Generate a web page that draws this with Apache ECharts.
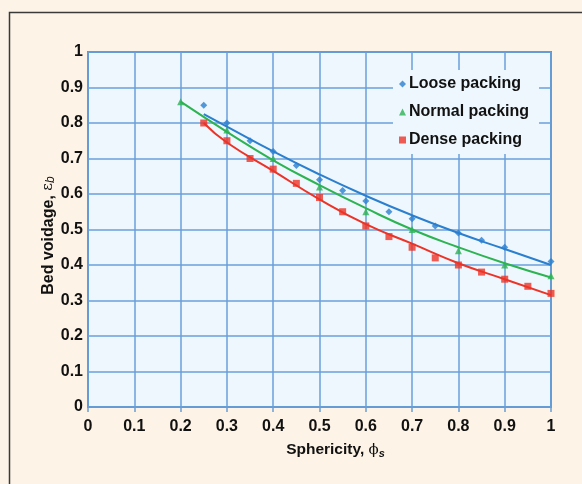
<!DOCTYPE html>
<html><head><meta charset="utf-8">
<script src="https://cdn.jsdelivr.net/npm/echarts@6/dist/echarts.min.js"></script>
<style>html,body{margin:0;padding:0;background:#fdf3e6;}#c{width:582px;height:484px;}</style>
</head><body><div id="c"></div>
<script>
var xTicks = [0,0.1,0.2,0.3,0.4,0.5,0.6,0.7,0.8,0.9,1];
var looseX = [0.25,0.3,0.35,0.4,0.45,0.5,0.55,0.6,0.65,0.7,0.75,0.8,0.85,0.9,1.0];
var looseY = [0.85,0.80,0.75,0.72,0.68,0.64,0.61,0.58,0.55,0.53,0.51,0.49,0.47,0.45,0.41];
var normalX = [0.2,0.3,0.4,0.5,0.6,0.7,0.8,0.9,1.0];
var normalY = [0.86,0.78,0.70,0.62,0.55,0.50,0.44,0.40,0.37];
var denseX = [0.25,0.3,0.35,0.4,0.45,0.5,0.55,0.6,0.65,0.7,0.75,0.8,0.85,0.9,0.95,1.0];
var denseY = [0.80,0.75,0.70,0.67,0.63,0.59,0.55,0.51,0.48,0.45,0.42,0.40,0.38,0.36,0.34,0.32];
var looseFitX = [0.25,0.3,0.4,0.5,0.6,0.7,0.8,0.9,1.0];
var looseFitY = [0.825,0.79,0.72,0.655,0.595,0.54,0.49,0.445,0.40];
var normalFitX = [0.2,0.3,0.4,0.5,0.6,0.7,0.8,0.9,1.0];
var normalFitY = [0.86,0.775,0.695,0.625,0.56,0.50,0.45,0.405,0.365];
var denseFitX = [0.25,0.3,0.4,0.5,0.6,0.7,0.8,0.9,1.0];
var denseFitY = [0.80,0.745,0.665,0.585,0.515,0.46,0.405,0.36,0.315];

function pairs(xs, ys){ return xs.map(function(x,i){ return [x, ys[i]]; }); }
var cBlue = '#2a7fcf', cGreen = '#2cb352', cRed = '#ec3327';
var font = 'Liberation Sans, Arial, Helvetica, sans-serif';

var chart = echarts.init(document.getElementById('c'));
chart.setOption({
  backgroundColor: '#fdf3e6',
  animation: false,
  graphic: [{type:'rect', left:7, top:10, shape:{width:600, height:500}, style:{fill:'none', stroke:'#3a3a3a', lineWidth:1.5}, z:-1}],
  grid: {left: 88, right: 31, top: 52, bottom: 77, show: true, backgroundColor: '#eef7fd', borderColor: '#5d93cf', borderWidth: 2},
  legend: {
    orient: 'vertical', left: 393, top: 70, itemWidth: 7, itemHeight: 7, itemGap: 12,
    backgroundColor: '#eef7fd', padding: [6, 10, 6, 6],
    textStyle: {fontFamily: font, fontWeight: 'bold', fontSize: 16, color: '#111', padding:[0,0,0,-2]},
    data: ['Loose packing','Normal packing','Dense packing']
  },
  xAxis: {
    type: 'value', min: 0, max: 1, interval: 0.1,
    name: '{a|Sphericity, }{p|\u03d5}{s|s}', nameLocation: 'middle', nameGap: 34, nameMoveOverlap: false,
    nameTextStyle: {padding: [0, 0, 0, 32], rich: {
      a: {fontFamily: font, fontWeight:'bold', fontSize: 15.5, color:'#111'},
      p: {fontFamily: 'DejaVu Serif, serif', fontSize: 15, color:'#111'},
      s: {fontFamily: font, fontWeight:'bold', fontStyle:'italic', fontSize: 11, color:'#111', verticalAlign:'bottom', padding:[7,0,0,0]}}},
    axisLine: {show: false},
    axisTick: {show: true, length: 5, lineStyle: {color: '#6a9fd8', width: 1.5}},
    splitLine: {show: true, lineStyle: {color: '#6a9fd8', width: 1.5}},
    axisLabel: {fontFamily: font, fontWeight: 'bold', fontSize: 16, color: '#111', margin: 12,
      formatter: function(v){ return String(Math.round(v*10)/10); }}
  },
  yAxis: {
    type: 'value', min: 0, max: 1, interval: 0.1,
    name: '{a|Bed voidage, }{e|\u03b5}{s|b}', nameLocation: 'middle', nameGap: 31, nameMoveOverlap: false,
    nameTextStyle: {padding: [0, 12, 0, 0], rich: {
      a: {fontFamily: font, fontWeight:'bold', fontSize: 16, color:'#111'},
      e: {fontFamily: 'DejaVu Serif, serif', fontSize: 15, color:'#111'},
      s: {fontFamily: font, fontStyle:'italic', fontSize: 12, color:'#111', padding:[5,0,0,0]}}},
    axisLine: {show: false},
    axisTick: {show: false},
    splitLine: {show: true, lineStyle: {color: '#6a9fd8', width: 1.5}},
    axisLabel: {fontFamily: font, fontWeight: 'bold', fontSize: 16, color: '#111', margin: 5,
      formatter: function(v){ return String(Math.round(v*10)/10); }}
  },
  series: [
    {name:'Loose packing', type:'scatter', symbol:'diamond', symbolSize:7, itemStyle:{color:cBlue}, data: pairs(looseX, looseY), z:5},
    {name:'Normal packing', type:'scatter', symbol:'triangle', symbolSize:7, itemStyle:{color:cGreen}, data: pairs(normalX, normalY), z:5},
    {name:'Dense packing', type:'scatter', symbol:'rect', symbolSize:7, itemStyle:{color:cRed}, data: pairs(denseX, denseY), z:5},
    {name:'Loose fit', type:'line', smooth:true, showSymbol:false, lineStyle:{color:cBlue, width:2}, data: pairs(looseFitX, looseFitY), z:4},
    {name:'Normal fit', type:'line', smooth:true, showSymbol:false, lineStyle:{color:cGreen, width:2}, data: pairs(normalFitX, normalFitY), z:4},
    {name:'Dense fit', type:'line', smooth:true, showSymbol:false, lineStyle:{color:cRed, width:2}, data: pairs(denseFitX, denseFitY), z:4}
  ]
});
</script></body></html>
